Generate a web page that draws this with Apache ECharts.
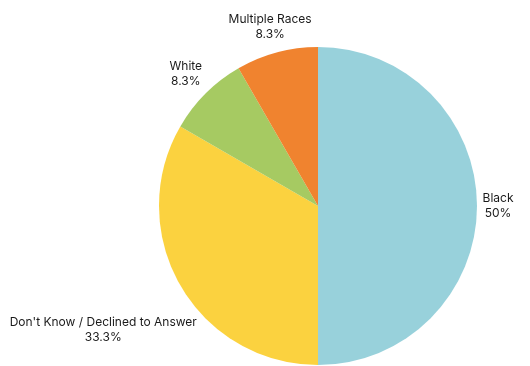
<!DOCTYPE html>
<html>
<head>
<meta charset="utf-8">
<script src="https://cdn.jsdelivr.net/npm/echarts@6/dist/echarts.min.js"></script>
<style>
  html, body { margin: 0; padding: 0; background: #ffffff; }
  #chart { width: 530px; height: 366px; }
</style>
</head>
<body>
<div id="chart"></div>
<script>
// race breakdown (counts out of 12)
const categories = ['Black', "Don't Know / Declined to Answer", 'White', 'Multiple Races'];
const values = [6, 4, 1, 1];
const colors = ['#98D1DB', '#FBD23F', '#A6CA62', '#F0832F'];
// how far each label sits out from the rim
const labelOffsets = [21, 89, 28, 26];

const chart = echarts.init(document.getElementById('chart'), null, { renderer: 'canvas' });

const data = categories.map((name, i) => ({
  name: name,
  value: values[i],
  itemStyle: { color: colors[i] },
  labelLine: { show: false, length: labelOffsets[i], length2: 0 }
}));

chart.setOption({
  backgroundColor: '#ffffff',
  animation: false,
  series: [{
    type: 'pie',
    center: [318, 206],
    radius: 159,
    startAngle: 90,
    clockwise: true,
    avoidLabelOverlap: false,
    label: {
      show: true,
      position: 'outside',
      alignTo: 'none',
      distanceToLabelLine: 0,
      color: '#1a1a1a',
      fontFamily: 'Inter',
      fontSize: 12,
      lineHeight: 15,
      formatter: p => '{t|' + p.name + '}\n{t|' + (Math.round(p.percent * 10) / 10) + '%}',
      rich: {
        t: { align: 'center', fontFamily: 'Inter', fontSize: 12, lineHeight: 15, color: '#1a1a1a' }
      }
    },
    // centre every label on its anchor point
    labelLayout: () => ({ align: 'center', verticalAlign: 'middle' }),
    labelLine: { show: false },
    itemStyle: { borderWidth: 0 },
    emphasis: { disabled: true },
    data: data
  }]
});
</script>
</body>
</html>
